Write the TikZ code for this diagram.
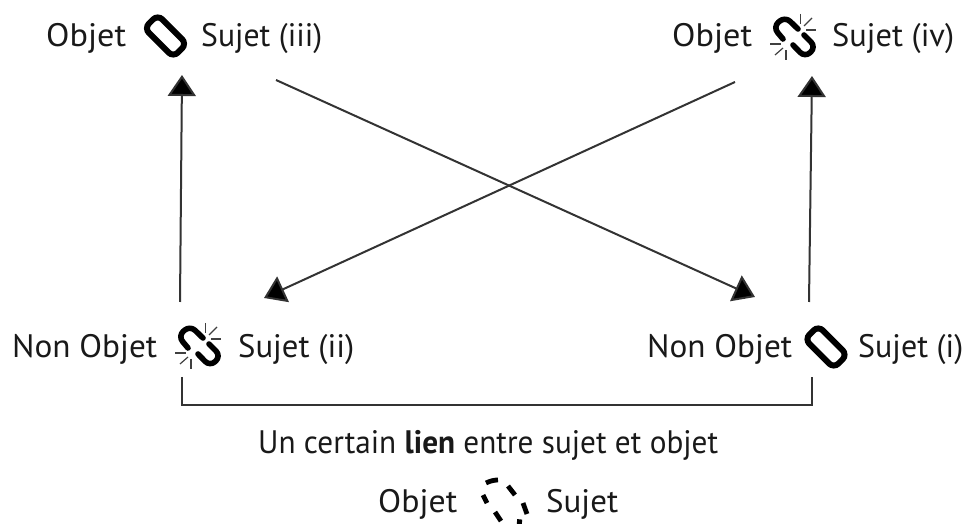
\documentclass[tikz,border=0pt]{standalone}
\usepackage{fontspec}
\usepackage{graphicx}
\setmainfont{PT Sans}
\usetikzlibrary{arrows.meta}
\newcommand{\fitw}[2]{\resizebox{#1pt}{\height}{#2}}
\tikzset{
  lbl/.style={inner sep=0pt,font=\fontsize{32.5}{35}\selectfont,text=black!90,anchor=base west},
  conn/.style={draw=black!80,line width=2pt},
  arr/.style={conn,-{Triangle[length=21pt,width=28pt,fill=black]}},
  linkpart/.style={line width=5.6pt,line cap=round,line join=round},
  spark/.style={line width=1.2pt,black!75},
  pics/linkwhole/.style={code={
    \draw[line width=6pt,rounded corners=6.5pt,rotate=-45] (-20.5,-9.5) rectangle (20.5,9.5);
  }},
  pics/linkbroken/.style={code={
    \draw[linkpart,rounded corners=7pt] (5,8) -- (-8,20.5) -- (-20,10) -- (-10,-2);
    \draw[linkpart,rounded corners=7pt] (0,-8) -- (12,-20.5) -- (23,-10) -- (11,2);
    \draw[spark] (7.5,23) -- (7.5,13);
    \draw[spark] (11,11) -- (19,19);
    \draw[spark] (13,7) -- (23,7);
    \draw[spark] (-23,-7) -- (-12,-7);
    \draw[spark] (-18,-18) -- (-10,-11);
    \draw[spark] (-7,-13) -- (-7,-23);
  }},
  pics/linkdash/.style={code={
    \draw[line width=4.8pt] (-19,17) .. controls (-15,19) and (-11,20) .. (-7,20);
    \draw[line width=4.8pt] (-22,5) -- (-18,-3);
    \draw[line width=4.8pt] (-10,-12) -- (-4,-21);
    \draw[line width=4.8pt] (3,14) -- (10,5);
    \draw[line width=4.8pt] (18,-3) -- (22,-14);
    \draw[line width=4.8pt] (12,-21.5) -- (17,-22);
  }},
}
\begin{document}
\begin{tikzpicture}[x=1pt,y=1pt]
\useasboundingbox (0,0) rectangle (966,524);
\clip (0,0) rectangle (966,524);
\node[lbl] (o3) at (46,477) {\fitw{80}{Objet}};
\node[lbl] (s3) at (201,477) {\fitw{121}{Sujet (iii)}};
\node[lbl] (o4) at (672,477) {\fitw{80}{Objet}};
\node[lbl] (s4) at (832,477) {\fitw{122}{Sujet (iv)}};
\node[lbl] (o2) at (12,166) {\fitw{145}{Non Objet}};
\node[lbl] (s2) at (238,166) {\fitw{116}{Sujet (ii)}};
\node[lbl] (o1) at (647,166) {\fitw{145}{Non Objet}};
\node[lbl] (s1) at (858,166) {\fitw{105}{Sujet (i)}};
\node[lbl] (t) at (258,70) {\fitw{460}{Un certain \textbf{lien} entre sujet et objet}};
\node[lbl] (o0) at (378,11) {\fitw{79}{Objet}};
\node[lbl] (s0) at (546,11) {\fitw{72}{Sujet}};
\pic at (165.5,488) {linkwhole};
\pic at (793,487) {linkbroken};
\pic at (198,178) {linkbroken};
\pic at (826,177) {linkwhole};
\pic at (505,24) {linkdash};
\coordinate (a2) at (180,222);
\coordinate (a3) at (182,449);
\coordinate (a1) at (809,222);
\coordinate (a4) at (812,448);
\coordinate (d3) at (276,444);
\coordinate (d1) at (755,227);
\coordinate (d4) at (735,442);
\coordinate (d2) at (264,226);
\coordinate (b2) at (182,147);
\coordinate (b1) at (812,147);
\draw[arr] (a2) -- (a3);
\draw[arr] (a1) -- (a4);
\draw[arr] (d3) -- (d1);
\draw[arr] (d4) -- (d2);
\draw[conn] (b2) -- ++(0,-28) -| (b1);
\end{tikzpicture}
\end{document}
